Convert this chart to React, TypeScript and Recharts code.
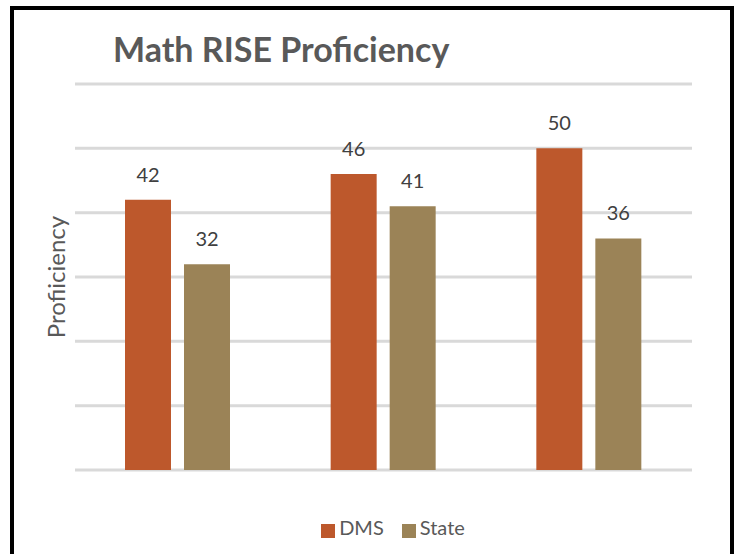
import { BarChart, Bar, XAxis, YAxis, CartesianGrid, Legend, LabelList } from 'recharts'

const schools = ['2017', '2018', '2019']
const dmsScores = [42, 46, 50]
const stateScores = [32, 41, 36]
const yTicks = [0, 10, 20, 30, 40, 50, 60]

const data = schools.map((name, i) => ({ name, dms: dmsScores[i], state: stateScores[i] }))

const FONT = 'Lato, "Open Sans", sans-serif'

export default function App() {
  return (
    <div style={{ position: 'absolute', left: 0, top: 0, width: 740, height: 554, background: '#fff', overflow: 'hidden', fontFamily: FONT }}>
      <div
        style={{
          position: 'absolute',
          left: 10,
          top: 6,
          width: 716,
          height: 560,
          border: '4px solid #000',
        }}
      />
      <div
        style={{
          position: 'absolute',
          left: 113,
          top: 28,
          fontSize: 34,
          fontWeight: 700,
          color: '#595959',
          whiteSpace: 'nowrap',
        }}
      >
        Math RISE Proficiency
      </div>
      <div style={{ position: 'absolute', left: 0, top: 0 }}>
        <BarChart width={740} height={554} data={data} margin={{ top: 84, right: 48, left: 0, bottom: 60 }} barGap={13}>
          <CartesianGrid vertical={false} stroke="#d9d9d9" strokeWidth={3} />
          <XAxis dataKey="name" hide />
          <YAxis
            domain={[0, 60]}
            ticks={yTicks}
            width={75}
            tickFormatter={() => ''}
            axisLine={false}
            tickLine={false}
            label={{
              value: 'Profiiciency',
              angle: -90,
              position: 'insideLeft',
              offset: 56,
              style: { textAnchor: 'middle', fontSize: 24, fill: '#595959', fontFamily: FONT },
            }}
          />
          <Legend
            iconType="square"
            iconSize={14}
            verticalAlign="bottom"
            formatter={(value) => (
              <span style={{ color: '#595959', fontSize: 20, fontFamily: FONT, marginRight: 8 }}>
                {value === 'dms' ? 'DMS' : 'State'}
              </span>
            )}
            wrapperStyle={{ top: 515, left: 56 }}
          />
          <Bar dataKey="dms" fill="#BD582C" barSize={46} isAnimationActive={false}>
            <LabelList dataKey="dms" position="top" offset={18} fill="#404040" fontSize={20} fontFamily={FONT} />
          </Bar>
          <Bar dataKey="state" fill="#9B8357" barSize={46} isAnimationActive={false}>
            <LabelList dataKey="state" position="top" offset={18} fill="#404040" fontSize={20} fontFamily={FONT} />
          </Bar>
        </BarChart>
      </div>
    </div>
  )
}
